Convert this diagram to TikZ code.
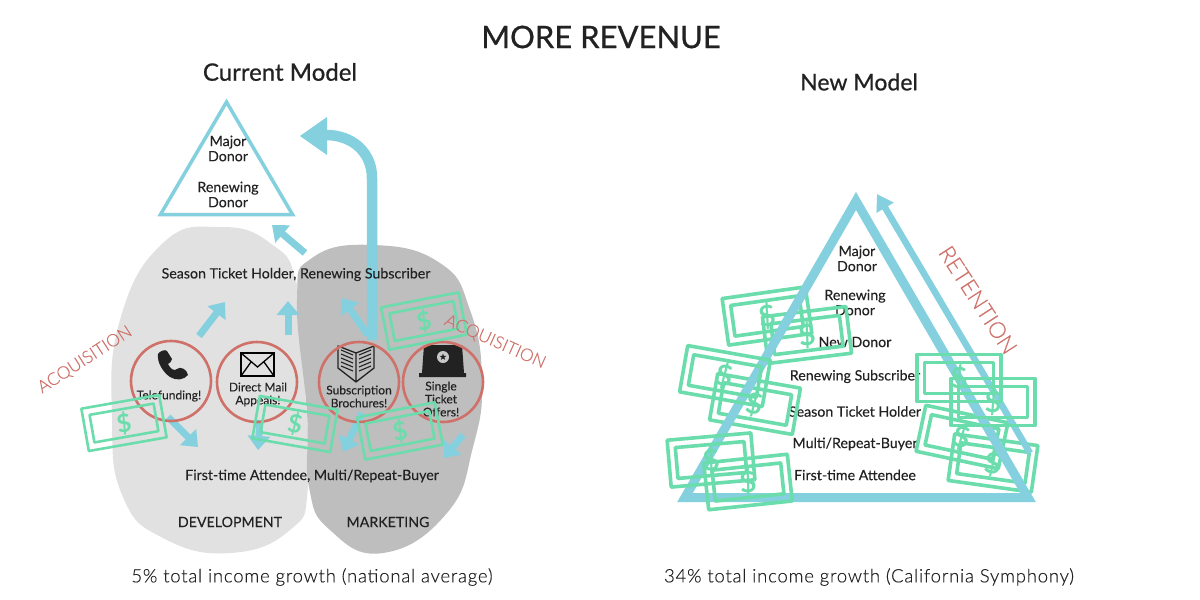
\documentclass[tikz,border=0pt]{standalone}
\usepackage{fontspec}
\setmainfont{Lato}
\newfontfamily\thinfont[FakeBold=0.25]{Lato Light}
\newfontfamily\footfont[LetterSpace=4.3,FakeBold=0.2]{Lato Light}
\newfontfamily\medfont[FakeBold=0.15]{Lato}
\newfontfamily\headfont[FakeBold=0.7]{Lato}
\usetikzlibrary{arrows.meta,shapes.geometric}
\definecolor{tealc}{HTML}{84D0DE}
\definecolor{redc}{HTML}{CF7169}
\definecolor{greenc}{HTML}{6BDCAB}
\definecolor{ink}{HTML}{222222}
\definecolor{blobl}{HTML}{E1E1E1}
\definecolor{blobd}{HTML}{BEBEBE}
\newcommand{\fs}[1]{\fontsize{#1}{#1}\selectfont}
\tikzset{
 lbl/.style={text=ink,inner sep=0pt,align=center,font=\medfont\fs{14.2}},
 small/.style={text=ink,inner sep=0pt,align=center,font=\medfont\fs{12}},
 hand/.style={text=redc,inner sep=0pt,font=\thinfont\fs{17.3}},
 foot/.style={text=ink,inner sep=0pt,font=\footfont\fs{18.5}},
 ring/.style={draw=redc,line width=2.6pt,circle,minimum size=80pt,inner sep=0pt},
 sarrow/.style={draw=tealc,line width=7pt,-{Triangle[length=14pt,width=22pt]}},
 billa/.style={draw=greenc,line width=2.6pt,line join=round,minimum width=79pt,minimum height=43pt,inner sep=0pt},
 billb/.style={draw=greenc,line width=2.6pt,line join=round,minimum width=65pt,minimum height=28pt,inner sep=0pt,text=greenc,font=\bfseries\fs{25}},
 billc/.style={draw=greenc,line width=3.6pt,line join=round,minimum width=84pt,minimum height=47pt,inner sep=0pt},
 billd/.style={draw=greenc,line width=3.6pt,line join=round,minimum width=69pt,minimum height=31pt,inner sep=0pt,text=greenc,font=\bfseries\fs{29}},
}
\newcommand{\smallbill}[4]{\node[billa,rotate=#4] (#1o) at (#2,#3) {};\node[billb,rotate=#4] (#1i) at (#2,#3) {\$};}
\newcommand{\bigbill}[4]{\node[billc,rotate=#4] (#1o) at (#2,#3) {};\node[billd,rotate=#4] (#1i) at (#2,#3) {\$};}
\begin{document}
\begin{tikzpicture}[x=1pt,y=-1pt]
\useasboundingbox (0,0) rectangle (1200,600);
\fill[white] (0,0) rectangle (1200,600);
% titles
\node[text=ink,inner sep=0pt,font=\headfont\fs{31}] (title) at (601,37) {MORE REVENUE};
\node[text=ink,inner sep=0pt,font=\headfont\fs{24}] (cur) at (280,72) {Current Model};
\node[text=ink,inner sep=0pt,font=\headfont\fs{23}] (new) at (859,82) {New Model};
% blobs
\fill[blobl] plot[smooth cycle,tension=0.8] coordinates {(112,420)(120,320)(163,243)(220,227)(270,243)(297,285)(305,387)(308,487)(290,530)(230,553)(163,538)(123,497)};
\fill[blobd] plot[smooth cycle,tension=0.8] coordinates {(373,245)(440,263)(470,310)(482,380)(473,447)(447,513)(383,553)(330,530)(309,487)(307,413)(297,300)(312,258)};
% small triangle
\coordinate (ta) at (226.5,102);\coordinate (tb) at (160.5,214.5);\coordinate (tc) at (292.5,214.5);
\draw[tealc,line width=3.5pt,miter limit=10] (ta)--(tb)--(tc)--cycle;
\node[lbl] (d1) at (228,148.5) {Major\\[1pt]Donor};
\node[lbl] (d2) at (228,194.5) {Renewing\\[1pt]Donor};
% big curved arrow
\coordinate (bs) at (372,340);\coordinate (bt) at (300,136);
\draw[tealc,line width=10.5pt] (bs)--(372,178) .. controls (372,152) and (352,135) .. (326,135);
\fill[tealc] (bt)--(327,117)--(327,155)--cycle;
% small arrows
\foreach \n/\ax/\ay/\bx/\by in {a/305/253/272/225,b/199/336/225/302,c/288/335/288/301,d/368/335/342/298,e/168/417/198/447,f/260/420/258/450,g/362/413/343/452,h/463/435/444/458}{
 \coordinate (\n s) at (\ax,\ay);\coordinate (\n t) at (\bx,\by);
 \draw[sarrow] (\n s)--(\n t);
}
% labels
\node[lbl] (season) at (296,274.5) {Season Ticket Holder, Renewing Subscriber};
\node[lbl] (first) at (312,476) {First-time Attendee, Multi/Repeat-Buyer};
\node[lbl] (dev) at (230,522) {DEVELOPMENT};
\node[lbl] (mkt) at (388,522) {MARKETING};
% icons
\fill[ink] (158,354) .. controls (160,351) and (165,349) .. (167,351) -- (172,359) .. controls (172,362) and (169,363) .. (168,364)
 .. controls (170,368) and (174,372) .. (177,369) .. controls (180,366) and (187,369) .. (188,375) .. controls (184,380) and (176,381) .. (170,377)
 .. controls (163,372) and (157,363) .. (158,354) -- cycle;
\draw[black,line width=2.4pt] (241,353) rectangle (274,376);
\draw[black,line width=1.3pt] (241,353)--(257.5,367)--(274,353) (241,376)--(251,362) (274,376)--(264,362);
\draw[ink,line width=1.3pt,line join=round] (338,346)--(356,353)--(374,346)--(374,368)--(356,382)--(338,368)--cycle (356,353)--(356,382);
\foreach \k in {0,1,2,3,4}{
 \draw[ink,line width=1.1pt] (341,{350+\k*4}) -- (353,{355+\k*4});
 \draw[ink,line width=1.1pt] (371,{350+\k*4}) -- (359,{355+\k*4});
}
\fill[ink] (424,345) -- (462,345) -- (464,373) -- (466,373) -- (466,377) -- (419,377) -- (419,373) -- (422,373) -- cycle;
\fill[blobd!85!white] (443,357) circle (6pt);
\node[star,star points=5,star point ratio=2.4,fill=ink,inner sep=0pt,minimum size=7pt] (st) at (443,357) {};
% circles
\node[ring] (c1) at (171,381) {};
\node[ring] (c2) at (257,382) {};
\node[ring] (c3) at (359,382) {};
\node[ring] (c4) at (443,382) {};
\node[small] (t1) at (169,396) {Telefunding!};
\node[small] (t2) at (258,394.5) {Direct Mail\\[1pt]Appeals!};
\node[small] (t3) at (359,396.5) {Subscription\\[1pt]Brochures!};
\node[small] (t4) at (441,399) {Single\\[1pt]Ticket\\[1pt]Offers!};
% money left
\smallbill{m1}{124}{423}{10}
\smallbill{m2}{295}{424}{-10}
\smallbill{m3}{400}{431}{11}
\smallbill{m4}{424}{321}{11}
\node[hand,rotate=33] (acq1) at (85,360) {ACQUISITION};
\node[hand,rotate=-24] (acq2) at (495,342) {ACQUISITION};
% new model
\node[lbl] (n1) at (857,258.5) {Major\\[1pt]Donor};
\node[lbl] (n2) at (855,302.5) {Renewing\\[1pt]Donor};
\node[lbl] (n3) at (855,342) {New Donor};
\node[lbl] (n4) at (855,376.5) {Renewing Subscriber};
\node[lbl] (n5) at (855,411.5) {Season Ticket Holder};
\node[lbl] (n6) at (855,444) {Multi/Repeat-Buyer};
\node[lbl] (n7) at (855,475) {First-time Attendee};
\bigbill{r2}{807}{335}{7}
\bigbill{r1}{767}{316}{8}
\bigbill{r4}{755}{404}{-10}
\bigbill{r10}{993}{463}{-8}
\bigbill{r9}{962}{437}{-12}
\coordinate (na) at (856,201);\coordinate (nb) at (685,497.5);\coordinate (nc) at (1028,497.5);
\draw[tealc,line width=9pt,miter limit=10] (na)--(nb)--(nc)--cycle;
\coordinate (rs) at (1030,453);\coordinate (rt) at (877,194);
\draw[tealc,line width=6.5pt,-{Triangle[length=16pt,width=19pt]}] (rs)--(rt);
\bigbill{r3}{725}{376}{-10}
\bigbill{r6}{748}{482}{6}
\bigbill{r5}{711}{460}{5}
\bigbill{r8}{993}{402}{0}
\bigbill{r7}{959}{378}{0}
\node[hand,rotate=-57,font=\thinfont\fs{22.5}] (ret) at (978,300) {RETENTION};
% footers
\node[foot] (f1) at (312,577) {5\% total income growth (national average)};
\node[foot] (f2) at (869,577) {34\% total income growth (California Symphony)};
\end{tikzpicture}
\end{document}
